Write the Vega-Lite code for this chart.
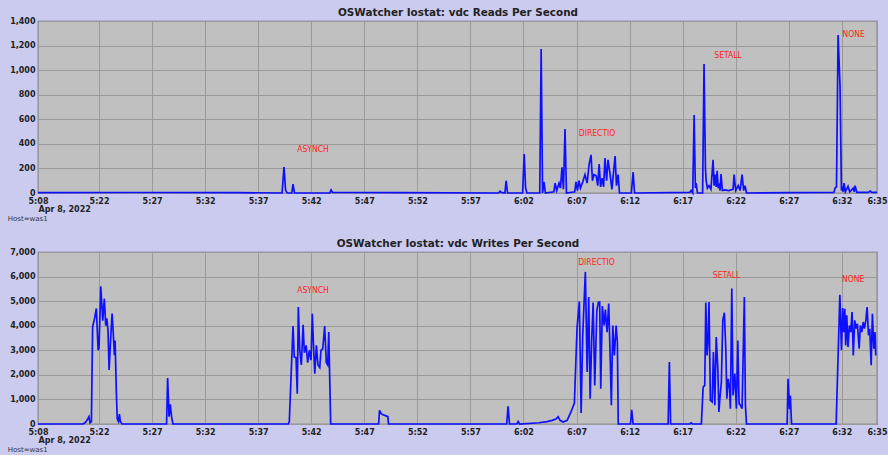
{
  "$schema": "https://vega.github.io/schema/vega-lite/v6.json",
  "background": "#cbcbef",
  "padding": {"left": 7, "top": 6, "right": 11, "bottom": 1},
  "spacing": 14,
  "config": {
    "font": "DejaVu Sans",
    "view": {"fill": "#c0c0c0", "stroke": "#5c5c6c", "strokeWidth": 1.2},
    "axis": {
      "labelFont": "DejaVu Sans", "labelFontSize": 8, "labelFontWeight": "bold", "labelColor": "#222222",
      "gridColor": "#9a9a9a", "gridOpacity": 1, "gridWidth": 1,
      "ticks": false, "domain": false, "labelPadding": 3,
      "titleFont": "DejaVu Sans", "titleColor": "#222222"
    }
  },
  "vconcat": [
    {
      "width": 839, "height": 172,
      "title": {"text": "Host=was1", "orient": "bottom", "anchor": "start", "frame": "bounds", "fontSize": 7, "fontWeight": "normal", "color": "#333333", "offset": 2, "dx": -2},
      "resolve": {"axis": {"x": "independent", "y": "independent"}},
      "layer": [
        {
          "data": {"format": {"parse": {"t": "date:'%H:%M:%S'"}}, "values": [
            {"t": "05:16:15", "v": 3}, {"t": "05:25:00", "v": 4}, {"t": "05:35:00", "v": 3},
            {"t": "05:39:15", "v": 0}, {"t": "05:39:26", "v": 212}, {"t": "05:39:35", "v": 20}, {"t": "05:39:45", "v": 0},
            {"t": "05:40:10", "v": 0}, {"t": "05:40:17", "v": 73}, {"t": "05:40:25", "v": 0},
            {"t": "05:43:45", "v": 0}, {"t": "05:43:52", "v": 25}, {"t": "05:44:00", "v": 5},
            {"t": "05:50:00", "v": 3}, {"t": "05:59:40", "v": 0}, {"t": "05:59:47", "v": 15}, {"t": "05:59:55", "v": 5},
            {"t": "06:00:15", "v": 0}, {"t": "06:00:22", "v": 100}, {"t": "06:00:30", "v": 0},
            {"t": "06:01:55", "v": 0}, {"t": "06:02:04", "v": 317}, {"t": "06:02:12", "v": 40}, {"t": "06:02:20", "v": 0},
            {"t": "06:03:32", "v": 0}, {"t": "06:03:40", "v": 1172}, {"t": "06:03:48", "v": 0}, {"t": "06:03:56", "v": 90}, {"t": "06:04:04", "v": 0},
            {"t": "06:04:52", "v": 10}, {"t": "06:04:59", "v": 80}, {"t": "06:05:08", "v": 20}, {"t": "06:05:21", "v": 80},
            {"t": "06:05:29", "v": 40}, {"t": "06:05:38", "v": 210}, {"t": "06:05:46", "v": 30}, {"t": "06:05:55", "v": 520}, {"t": "06:06:03", "v": 0},
            {"t": "06:06:50", "v": 10}, {"t": "06:06:57", "v": 90}, {"t": "06:07:05", "v": 20}, {"t": "06:07:14", "v": 100},
            {"t": "06:07:22", "v": 40}, {"t": "06:07:35", "v": 90}, {"t": "06:07:48", "v": 150}, {"t": "06:08:00", "v": 80},
            {"t": "06:08:11", "v": 230}, {"t": "06:08:22", "v": 310}, {"t": "06:08:30", "v": 100}, {"t": "06:08:39", "v": 150},
            {"t": "06:08:51", "v": 140}, {"t": "06:09:00", "v": 60}, {"t": "06:09:08", "v": 235}, {"t": "06:09:16", "v": 50},
            {"t": "06:09:25", "v": 120}, {"t": "06:09:33", "v": 50}, {"t": "06:09:41", "v": 285}, {"t": "06:09:50", "v": 100},
            {"t": "06:09:58", "v": 270}, {"t": "06:10:10", "v": 150}, {"t": "06:10:20", "v": 30}, {"t": "06:10:38", "v": 300},
            {"t": "06:10:46", "v": 60}, {"t": "06:10:55", "v": 150}, {"t": "06:11:03", "v": 0},
            {"t": "06:12:10", "v": 0}, {"t": "06:12:20", "v": 170}, {"t": "06:12:28", "v": 0},
            {"t": "06:17:40", "v": 5}, {"t": "06:17:48", "v": 20}, {"t": "06:17:57", "v": 0}, {"t": "06:18:05", "v": 635},
            {"t": "06:18:12", "v": 40}, {"t": "06:18:16", "v": 80}, {"t": "06:18:24", "v": 0},
            {"t": "06:18:53", "v": 0}, {"t": "06:19:01", "v": 1050}, {"t": "06:19:09", "v": 200}, {"t": "06:19:13", "v": 100},
            {"t": "06:19:20", "v": 40}, {"t": "06:19:29", "v": 60}, {"t": "06:19:40", "v": 30}, {"t": "06:19:52", "v": 270},
            {"t": "06:19:58", "v": 60}, {"t": "06:20:04", "v": 150}, {"t": "06:20:10", "v": 50}, {"t": "06:20:15", "v": 180},
            {"t": "06:20:21", "v": 40}, {"t": "06:20:26", "v": 60}, {"t": "06:20:32", "v": 20}, {"t": "06:20:37", "v": 155},
            {"t": "06:20:45", "v": 20}, {"t": "06:21:00", "v": 25}, {"t": "06:21:20", "v": 20}, {"t": "06:21:45", "v": 30},
            {"t": "06:21:51", "v": 150}, {"t": "06:22:00", "v": 20}, {"t": "06:22:14", "v": 60}, {"t": "06:22:25", "v": 20},
            {"t": "06:22:36", "v": 150}, {"t": "06:22:45", "v": 20}, {"t": "06:22:53", "v": 60}, {"t": "06:23:01", "v": 0},
            {"t": "06:27:00", "v": 3}, {"t": "06:31:15", "v": 5}, {"t": "06:31:22", "v": 40}, {"t": "06:31:30", "v": 50},
            {"t": "06:31:39", "v": 1285}, {"t": "06:31:50", "v": 870}, {"t": "06:31:58", "v": 20}, {"t": "06:32:02", "v": 40},
            {"t": "06:32:08", "v": 10}, {"t": "06:32:13", "v": 80}, {"t": "06:32:20", "v": 10}, {"t": "06:32:35", "v": 55},
            {"t": "06:32:45", "v": 10}, {"t": "06:33:04", "v": 40}, {"t": "06:33:10", "v": 10}, {"t": "06:33:15", "v": 60},
            {"t": "06:33:25", "v": 5}, {"t": "06:34:30", "v": 5}, {"t": "06:34:40", "v": 15}, {"t": "06:34:50", "v": 5},
            {"t": "06:35:19", "v": 5}
          ]},
          "mark": {"type": "line", "color": "#0f0fff", "strokeWidth": 1.7},
          "encoding": {
            "x": {"field": "t", "type": "temporal",
              "scale": {"domain": [{"year": 1900, "month": 1, "date": 1, "hours": 5, "minutes": 16, "seconds": 15}, {"year": 1900, "month": 1, "date": 1, "hours": 6, "minutes": 35, "seconds": 19}]},
              "axis": {
                "orient": "bottom",
                "values": [
                  {"year": 1900, "month": 1, "date": 1, "hours": 5, "minutes": 16, "seconds": 15},
                  {"year": 1900, "month": 1, "date": 1, "hours": 5, "minutes": 22}, {"year": 1900, "month": 1, "date": 1, "hours": 5, "minutes": 27},
                  {"year": 1900, "month": 1, "date": 1, "hours": 5, "minutes": 32}, {"year": 1900, "month": 1, "date": 1, "hours": 5, "minutes": 37},
                  {"year": 1900, "month": 1, "date": 1, "hours": 5, "minutes": 42}, {"year": 1900, "month": 1, "date": 1, "hours": 5, "minutes": 47},
                  {"year": 1900, "month": 1, "date": 1, "hours": 5, "minutes": 52}, {"year": 1900, "month": 1, "date": 1, "hours": 5, "minutes": 57},
                  {"year": 1900, "month": 1, "date": 1, "hours": 6, "minutes": 2}, {"year": 1900, "month": 1, "date": 1, "hours": 6, "minutes": 7},
                  {"year": 1900, "month": 1, "date": 1, "hours": 6, "minutes": 12}, {"year": 1900, "month": 1, "date": 1, "hours": 6, "minutes": 17},
                  {"year": 1900, "month": 1, "date": 1, "hours": 6, "minutes": 22}, {"year": 1900, "month": 1, "date": 1, "hours": 6, "minutes": 27},
                  {"year": 1900, "month": 1, "date": 1, "hours": 6, "minutes": 32},
                  {"year": 1900, "month": 1, "date": 1, "hours": 6, "minutes": 35, "seconds": 19}
                ],
                "labelExpr": "datum.index == 0 ? '5:08' : timeFormat(datum.value, '%-H:%M')",
                "labelFlush": false, "labelOverlap": false, "labelPadding": 4,
                "title": "Apr 8, 2022", "titleAnchor": "start", "titleAlign": "left",
                "titleFontSize": 8, "titleFontWeight": "bold", "titlePadding": 0
              }
            },
            "y": {"field": "v", "type": "quantitative", "scale": {"domain": [0, 1400]},
              "axis": {"values": [0, 200, 400, 600, 800, 1000, 1200, 1400], "labelExpr": "format(datum.value, ',')", "title": null}}
          }
        },
        {
          "data": {"format": {"parse": {"t": "date:'%H:%M:%S'"}}, "values": [
            {"t": "05:42:10", "v": 358, "label": "ASYNCH"},
            {"t": "06:08:56", "v": 488, "label": "DIRECTIO"},
            {"t": "06:21:17", "v": 1123, "label": "SETALL"},
            {"t": "06:33:07", "v": 1294, "label": "NONE"}
          ]},
          "mark": {"type": "text", "font": "DejaVu Sans Condensed", "fontSize": 8.5, "color": "#ff1c1c", "align": "center", "baseline": "middle"},
          "encoding": {
            "x": {"field": "t", "type": "temporal",
              "axis": {"orient": "top", "title": "OSWatcher Iostat: vdc Reads Per Second", "labels": false, "grid": false,
                "titleFontSize": 10.4, "titleFontWeight": "bold", "titlePadding": 4}},
            "y": {"field": "v", "type": "quantitative", "axis": null},
            "text": {"field": "label"}
          }
        }
      ]
    },
    {
      "width": 839, "height": 172,
      "title": {"text": "Host=was1", "orient": "bottom", "anchor": "start", "frame": "bounds", "fontSize": 7, "fontWeight": "normal", "color": "#333333", "offset": 2, "dx": -2},
      "resolve": {"axis": {"x": "independent", "y": "independent"}},
      "layer": [
        {
          "data": {"format": {"parse": {"t": "date:'%H:%M:%S'"}}, "values": [
            {"t": "05:16:15", "v": 0}, {"t": "05:20:30", "v": 0}, {"t": "05:20:41", "v": 50}, {"t": "05:20:52", "v": 150},
            {"t": "05:21:03", "v": 300}, {"t": "05:21:09", "v": 50}, {"t": "05:21:17", "v": 100}, {"t": "05:21:24", "v": 3960},
            {"t": "05:21:35", "v": 4300}, {"t": "05:21:45", "v": 4700}, {"t": "05:21:55", "v": 3000}, {"t": "05:22:00", "v": 3100},
            {"t": "05:22:10", "v": 5600}, {"t": "05:22:21", "v": 4200}, {"t": "05:22:30", "v": 5100}, {"t": "05:22:38", "v": 4000},
            {"t": "05:22:44", "v": 4300}, {"t": "05:22:51", "v": 3800}, {"t": "05:22:57", "v": 2200}, {"t": "05:23:06", "v": 3500},
            {"t": "05:23:14", "v": 4500}, {"t": "05:23:19", "v": 3900}, {"t": "05:23:27", "v": 2800}, {"t": "05:23:31", "v": 3400},
            {"t": "05:23:38", "v": 1300}, {"t": "05:23:43", "v": 200}, {"t": "05:23:50", "v": 100}, {"t": "05:23:55", "v": 400},
            {"t": "05:24:01", "v": 100}, {"t": "05:24:10", "v": 0},
            {"t": "05:28:22", "v": 0}, {"t": "05:28:28", "v": 1870}, {"t": "05:28:36", "v": 300}, {"t": "05:28:43", "v": 800},
            {"t": "05:28:50", "v": 300}, {"t": "05:28:58", "v": 0},
            {"t": "05:39:50", "v": 0}, {"t": "05:39:56", "v": 100}, {"t": "05:40:17", "v": 3990}, {"t": "05:40:24", "v": 2730},
            {"t": "05:40:34", "v": 2700}, {"t": "05:40:41", "v": 1230}, {"t": "05:40:47", "v": 4760}, {"t": "05:40:55", "v": 3000},
            {"t": "05:41:04", "v": 2400}, {"t": "05:41:14", "v": 4040}, {"t": "05:41:21", "v": 2900}, {"t": "05:41:31", "v": 3200},
            {"t": "05:41:40", "v": 2500}, {"t": "05:41:49", "v": 3000}, {"t": "05:41:59", "v": 2600}, {"t": "05:42:06", "v": 4490},
            {"t": "05:42:14", "v": 3000}, {"t": "05:42:20", "v": 2050}, {"t": "05:42:29", "v": 3200}, {"t": "05:42:38", "v": 2400},
            {"t": "05:42:48", "v": 2300}, {"t": "05:42:55", "v": 3000}, {"t": "05:43:05", "v": 3050}, {"t": "05:43:16", "v": 3990},
            {"t": "05:43:25", "v": 2500}, {"t": "05:43:33", "v": 2400}, {"t": "05:43:39", "v": 3740}, {"t": "05:43:50", "v": 0},
            {"t": "05:48:21", "v": 0}, {"t": "05:48:26", "v": 560}, {"t": "05:48:35", "v": 420}, {"t": "05:48:46", "v": 380},
            {"t": "05:49:03", "v": 330}, {"t": "05:49:13", "v": 300}, {"t": "05:49:17", "v": 0},
            {"t": "06:00:25", "v": 0}, {"t": "06:00:33", "v": 720}, {"t": "06:00:41", "v": 0},
            {"t": "06:01:22", "v": 0}, {"t": "06:01:30", "v": 100}, {"t": "06:01:38", "v": 0},
            {"t": "06:03:28", "v": 50}, {"t": "06:04:13", "v": 100}, {"t": "06:04:42", "v": 150}, {"t": "06:05:04", "v": 200},
            {"t": "06:05:16", "v": 300}, {"t": "06:05:27", "v": 150}, {"t": "06:05:44", "v": 80}, {"t": "06:06:07", "v": 150},
            {"t": "06:06:29", "v": 500}, {"t": "06:06:48", "v": 850}, {"t": "06:07:03", "v": 3920}, {"t": "06:07:16", "v": 4990},
            {"t": "06:07:26", "v": 450}, {"t": "06:07:35", "v": 3600}, {"t": "06:07:50", "v": 6190}, {"t": "06:08:00", "v": 2120},
            {"t": "06:08:09", "v": 5170}, {"t": "06:08:17", "v": 1030}, {"t": "06:08:26", "v": 3470}, {"t": "06:08:34", "v": 4940},
            {"t": "06:08:43", "v": 1570}, {"t": "06:08:55", "v": 4630}, {"t": "06:09:04", "v": 4960}, {"t": "06:09:11", "v": 4960},
            {"t": "06:09:17", "v": 1440}, {"t": "06:09:26", "v": 4800}, {"t": "06:09:36", "v": 4010}, {"t": "06:09:43", "v": 4660},
            {"t": "06:09:53", "v": 3740}, {"t": "06:10:02", "v": 4900}, {"t": "06:10:11", "v": 2520}, {"t": "06:10:17", "v": 760},
            {"t": "06:10:25", "v": 4010}, {"t": "06:10:34", "v": 2790}, {"t": "06:10:44", "v": 4010}, {"t": "06:10:51", "v": 3340},
            {"t": "06:10:56", "v": 0},
            {"t": "06:12:05", "v": 0}, {"t": "06:12:12", "v": 580}, {"t": "06:12:20", "v": 0},
            {"t": "06:15:38", "v": 0}, {"t": "06:15:45", "v": 2520}, {"t": "06:15:52", "v": 0},
            {"t": "06:17:40", "v": 0}, {"t": "06:17:48", "v": 50}, {"t": "06:17:56", "v": 0},
            {"t": "06:18:46", "v": 0}, {"t": "06:18:56", "v": 1500}, {"t": "06:19:05", "v": 1570}, {"t": "06:19:11", "v": 4940},
            {"t": "06:19:18", "v": 2790}, {"t": "06:19:24", "v": 3470}, {"t": "06:19:29", "v": 4960}, {"t": "06:19:37", "v": 960},
            {"t": "06:19:47", "v": 900}, {"t": "06:19:54", "v": 2930}, {"t": "06:20:02", "v": 760}, {"t": "06:20:10", "v": 3540},
            {"t": "06:20:19", "v": 2250}, {"t": "06:20:25", "v": 490}, {"t": "06:20:32", "v": 1160}, {"t": "06:20:39", "v": 1710},
            {"t": "06:20:47", "v": 4220}, {"t": "06:20:56", "v": 4530}, {"t": "06:21:04", "v": 3060}, {"t": "06:21:10", "v": 1030},
            {"t": "06:21:17", "v": 1840}, {"t": "06:21:25", "v": 1440}, {"t": "06:21:30", "v": 620}, {"t": "06:21:38", "v": 5510},
            {"t": "06:21:45", "v": 1160}, {"t": "06:21:55", "v": 2050}, {"t": "06:22:04", "v": 620}, {"t": "06:22:12", "v": 3400},
            {"t": "06:22:19", "v": 830}, {"t": "06:22:27", "v": 760}, {"t": "06:22:36", "v": 620}, {"t": "06:22:49", "v": 5170},
            {"t": "06:22:55", "v": 760}, {"t": "06:23:01", "v": 0},
            {"t": "06:26:51", "v": 0}, {"t": "06:26:56", "v": 1840}, {"t": "06:27:04", "v": 600}, {"t": "06:27:09", "v": 1160},
            {"t": "06:27:16", "v": 0},
            {"t": "06:31:28", "v": 0}, {"t": "06:31:49", "v": 5260}, {"t": "06:31:58", "v": 3000}, {"t": "06:32:05", "v": 4720},
            {"t": "06:32:11", "v": 3740}, {"t": "06:32:17", "v": 4690}, {"t": "06:32:22", "v": 3200}, {"t": "06:32:28", "v": 4420},
            {"t": "06:32:35", "v": 3130}, {"t": "06:32:43", "v": 4010}, {"t": "06:32:51", "v": 3740}, {"t": "06:32:58", "v": 4560},
            {"t": "06:33:05", "v": 2790}, {"t": "06:33:13", "v": 4220}, {"t": "06:33:21", "v": 3880}, {"t": "06:33:28", "v": 4080},
            {"t": "06:33:38", "v": 3060}, {"t": "06:33:45", "v": 4010}, {"t": "06:33:53", "v": 3740}, {"t": "06:34:01", "v": 4150},
            {"t": "06:34:08", "v": 3880}, {"t": "06:34:16", "v": 4220}, {"t": "06:34:23", "v": 4760}, {"t": "06:34:31", "v": 3610},
            {"t": "06:34:38", "v": 3880}, {"t": "06:34:46", "v": 2390}, {"t": "06:34:53", "v": 4490}, {"t": "06:35:01", "v": 3060},
            {"t": "06:35:08", "v": 3740}, {"t": "06:35:12", "v": 2790}
          ]},
          "mark": {"type": "line", "color": "#0f0fff", "strokeWidth": 1.7},
          "encoding": {
            "x": {"field": "t", "type": "temporal",
              "scale": {"domain": [{"year": 1900, "month": 1, "date": 1, "hours": 5, "minutes": 16, "seconds": 15}, {"year": 1900, "month": 1, "date": 1, "hours": 6, "minutes": 35, "seconds": 19}]},
              "axis": {
                "orient": "bottom",
                "values": [
                  {"year": 1900, "month": 1, "date": 1, "hours": 5, "minutes": 16, "seconds": 15},
                  {"year": 1900, "month": 1, "date": 1, "hours": 5, "minutes": 22}, {"year": 1900, "month": 1, "date": 1, "hours": 5, "minutes": 27},
                  {"year": 1900, "month": 1, "date": 1, "hours": 5, "minutes": 32}, {"year": 1900, "month": 1, "date": 1, "hours": 5, "minutes": 37},
                  {"year": 1900, "month": 1, "date": 1, "hours": 5, "minutes": 42}, {"year": 1900, "month": 1, "date": 1, "hours": 5, "minutes": 47},
                  {"year": 1900, "month": 1, "date": 1, "hours": 5, "minutes": 52}, {"year": 1900, "month": 1, "date": 1, "hours": 5, "minutes": 57},
                  {"year": 1900, "month": 1, "date": 1, "hours": 6, "minutes": 2}, {"year": 1900, "month": 1, "date": 1, "hours": 6, "minutes": 7},
                  {"year": 1900, "month": 1, "date": 1, "hours": 6, "minutes": 12}, {"year": 1900, "month": 1, "date": 1, "hours": 6, "minutes": 17},
                  {"year": 1900, "month": 1, "date": 1, "hours": 6, "minutes": 22}, {"year": 1900, "month": 1, "date": 1, "hours": 6, "minutes": 27},
                  {"year": 1900, "month": 1, "date": 1, "hours": 6, "minutes": 32},
                  {"year": 1900, "month": 1, "date": 1, "hours": 6, "minutes": 35, "seconds": 19}
                ],
                "labelExpr": "datum.index == 0 ? '5:08' : timeFormat(datum.value, '%-H:%M')",
                "labelFlush": false, "labelOverlap": false, "labelPadding": 4,
                "title": "Apr 8, 2022", "titleAnchor": "start", "titleAlign": "left",
                "titleFontSize": 8, "titleFontWeight": "bold", "titlePadding": 0
              }
            },
            "y": {"field": "v", "type": "quantitative", "scale": {"domain": [0, 7000]},
              "axis": {"values": [0, 1000, 2000, 3000, 4000, 5000, 6000, 7000], "labelExpr": "format(datum.value, ',')", "title": null}}
          }
        },
        {
          "data": {"format": {"parse": {"t": "date:'%H:%M:%S'"}}, "values": [
            {"t": "05:42:10", "v": 5440, "label": "ASYNCH"},
            {"t": "06:08:53", "v": 6590, "label": "DIRECTIO"},
            {"t": "06:21:08", "v": 6050, "label": "SETALL"},
            {"t": "06:33:04", "v": 5910, "label": "NONE"}
          ]},
          "mark": {"type": "text", "font": "DejaVu Sans Condensed", "fontSize": 8.5, "color": "#ff1c1c", "align": "center", "baseline": "middle"},
          "encoding": {
            "x": {"field": "t", "type": "temporal",
              "axis": {"orient": "top", "title": "OSWatcher Iostat: vdc Writes Per Second", "labels": false, "grid": false,
                "titleFontSize": 10.4, "titleFontWeight": "bold", "titlePadding": 4}},
            "y": {"field": "v", "type": "quantitative", "axis": null},
            "text": {"field": "label"}
          }
        }
      ]
    }
  ]
}
